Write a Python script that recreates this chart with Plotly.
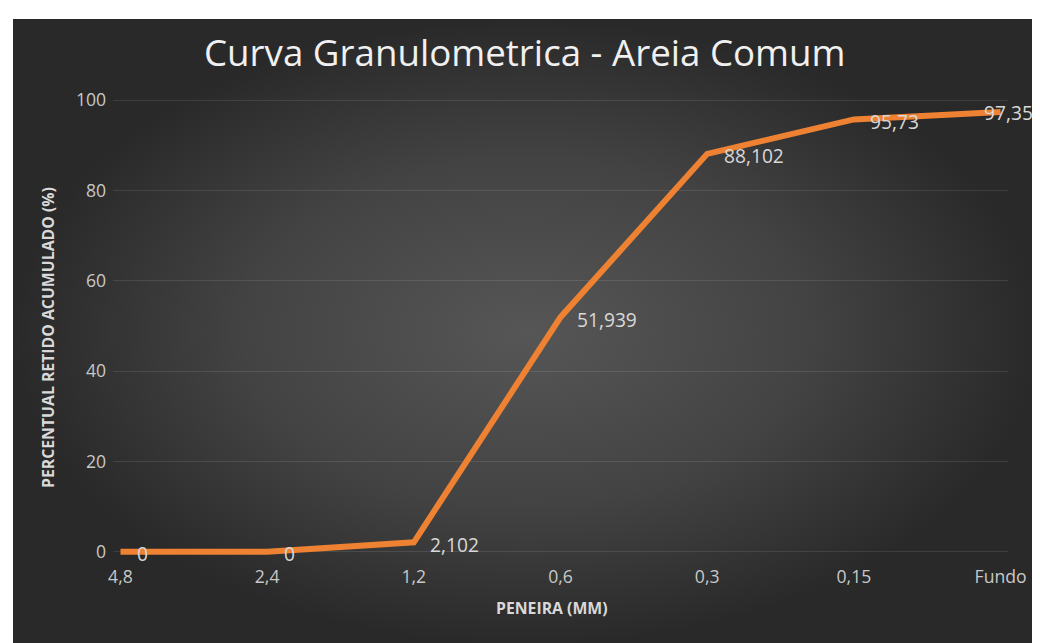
import plotly.graph_objects as go

categories = ["4,8", "2,4", "1,2", "0,6", "0,3", "0,15", "Fundo"]
values = [0, 0, 2.102, 51.939, 88.102, 95.73, 97.358]
labels = ["0", "0", "2,102", "51,939", "88,102", "95,73", "97,358"]
y_ticks = [0, 20, 40, 60, 80, 100]

W, H = 1050, 645
xi = list(range(len(categories)))
FONT = "Open Sans"

fig = go.Figure()

# background panel with radial gradient (full-paper helper axes)
fig.add_trace(go.Scatter(
    x=[0, W, W, 0, 0], y=[0, 0, H, H, 0],
    xaxis="x2", yaxis="y2", mode="lines", line=dict(width=0),
    fill="toself",
    fillgradient=dict(type="radial",
                      colorscale=[[0, "#565656"], [0.55, "#434343"], [1, "#292929"]]),
    hoverinfo="skip", showlegend=False,
))

fig.add_trace(go.Scatter(
    x=xi, y=values, mode="lines",
    line=dict(color="#EE8232", width=6),
    xaxis="x3", yaxis="y3", showlegend=False, cliponaxis=False,
))

annotations = []
for i, (v, t) in enumerate(zip(values, labels)):
    last = i == len(values) - 1
    annotations.append(dict(
        x=i, y=v, xref="x3", yref="y3", text=t, showarrow=False,
        xanchor="left", yanchor="middle",
        xshift=-18.5 if last else 14.5, yshift=0 if last else -2,
        font=dict(family=FONT, size=19.2, color="#d8d8d8"),
    ))

annotations += [
    dict(text="Curva Granulometrica - Areia Comum", x=0.49867, y=0.9470,
         xref="paper", yref="paper", showarrow=False, xanchor="center", yanchor="middle",
         font=dict(family=FONT, size=36.7, color="#f0f0f0")),
    dict(text="<b>PERCENTUAL RETIDO ACUMULADO (%)</b>", x=0.033629, y=0.4920,
         xref="paper", yref="paper", showarrow=False, textangle=-90,
         xanchor="center", yanchor="middle",
         font=dict(family=FONT, size=15.8, color="#d9d9d9")),
    dict(text="<b>PENEIRA (MM)</b>", x=0.52500, y=0.06140,
         xref="paper", yref="paper", showarrow=False, xanchor="center", yanchor="middle",
         font=dict(family=FONT, size=15.8, color="#d9d9d9")),
]

fig.update_layout(
    width=W, height=H,
    margin=dict(l=0, r=0, t=0, b=0),
    paper_bgcolor="white",
    plot_bgcolor="rgba(0,0,0,0)",
    xaxis2=dict(domain=[0, 1], range=[0, W], visible=False, anchor="y2", fixedrange=True),
    yaxis2=dict(domain=[0, 1], range=[0, H], visible=False, anchor="x2", fixedrange=True),
    xaxis3=dict(domain=[0.0976, 0.9697], range=[-0.05, 6.05], anchor="y3",
                tickmode="array", tickvals=xi, ticktext=categories,
                showgrid=False, zeroline=False, showline=False, ticks="",
                ticklabelstandoff=8,
                tickfont=dict(family=FONT, size=17.6, color="#c8c8c8")),
    yaxis3=dict(domain=[0.14305, 0.87426], range=[-1, 100.5], anchor="x3",
                tickmode="array", tickvals=y_ticks,
                showgrid=True, gridcolor="rgba(255,255,255,0.10)", gridwidth=1,
                zeroline=False, showline=False, ticks="",
                ticklabelstandoff=6,
                tickfont=dict(family=FONT, size=17.6, color="#c8c8c8")),
    annotations=annotations,
    separators=",.",
)

fig.write_html("out.html", config={"displayModeBar": False})
